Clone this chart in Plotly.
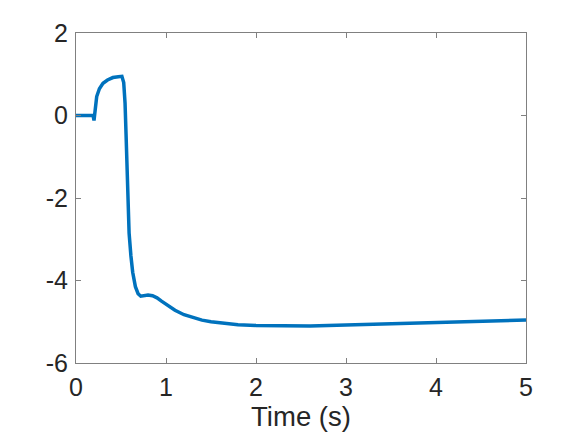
import plotly.graph_objects as go

# time (s) and response
time_s = [0, 0.19, 0.2, 0.21, 0.23, 0.26, 0.30, 0.35, 0.41, 0.47, 0.51, 0.53, 0.545,
          0.556, 0.565, 0.574, 0.59, 0.61, 0.63, 0.66, 0.69, 0.72, 0.76, 0.80, 0.85,
          0.90, 0.95, 1.0, 1.1, 1.2, 1.3, 1.4, 1.5, 1.6, 1.8, 2.0, 2.3, 2.6, 3.0,
          3.5, 4.0, 4.5, 5.0]
response = [0, 0, -0.12, 0.1, 0.46, 0.65, 0.78, 0.86, 0.92, 0.94, 0.95, 0.8, 0.3,
            -0.45, -1.2, -2.0, -2.85, -3.4, -3.8, -4.15, -4.32, -4.38, -4.36, -4.35, -4.37,
            -4.42, -4.5, -4.58, -4.72, -4.83, -4.9, -4.96, -5.0, -5.03, -5.07, -5.09, -5.1, -5.1, -5.08,
            -5.05, -5.02, -4.99, -4.96]

x_ticks = [0, 1, 2, 3, 4, 5]
y_ticks = [2, 0, -2, -4, -6]
y_tick_text = ["2", "0", "-2", "-4", "-6"]

fig = go.Figure(go.Scatter(
    x=time_s, y=response, mode="lines",
    line=dict(color="#0072BD", width=3.5),
    showlegend=False,
))

axis_common = dict(
    showline=True, linecolor="#808080", linewidth=1, mirror="ticks",
    ticks="inside", ticklen=5, tickcolor="#808080",
    showgrid=False, zeroline=False,
    tickfont=dict(family="Liberation Sans, Arial", size=25, color="#262626"),
)

fig.update_xaxes(range=[0, 5], tickvals=x_ticks, ticklabelstandoff=2,
                 title=dict(text="Time (s)", font=dict(family="Liberation Sans, Arial", size=27.5, color="#262626"), standoff=5),
                 **axis_common)
fig.update_yaxes(range=[-6, 2], tickvals=y_ticks, ticktext=y_tick_text, ticklabelstandoff=2, **axis_common)

# the page body adds an 8px offset, so margins are shifted to compensate
fig.update_layout(
    width=581, height=436,
    margin=dict(l=68, r=63, t=25, b=81),
    plot_bgcolor="white", paper_bgcolor="white",
)

fig.write_html("out.html")
